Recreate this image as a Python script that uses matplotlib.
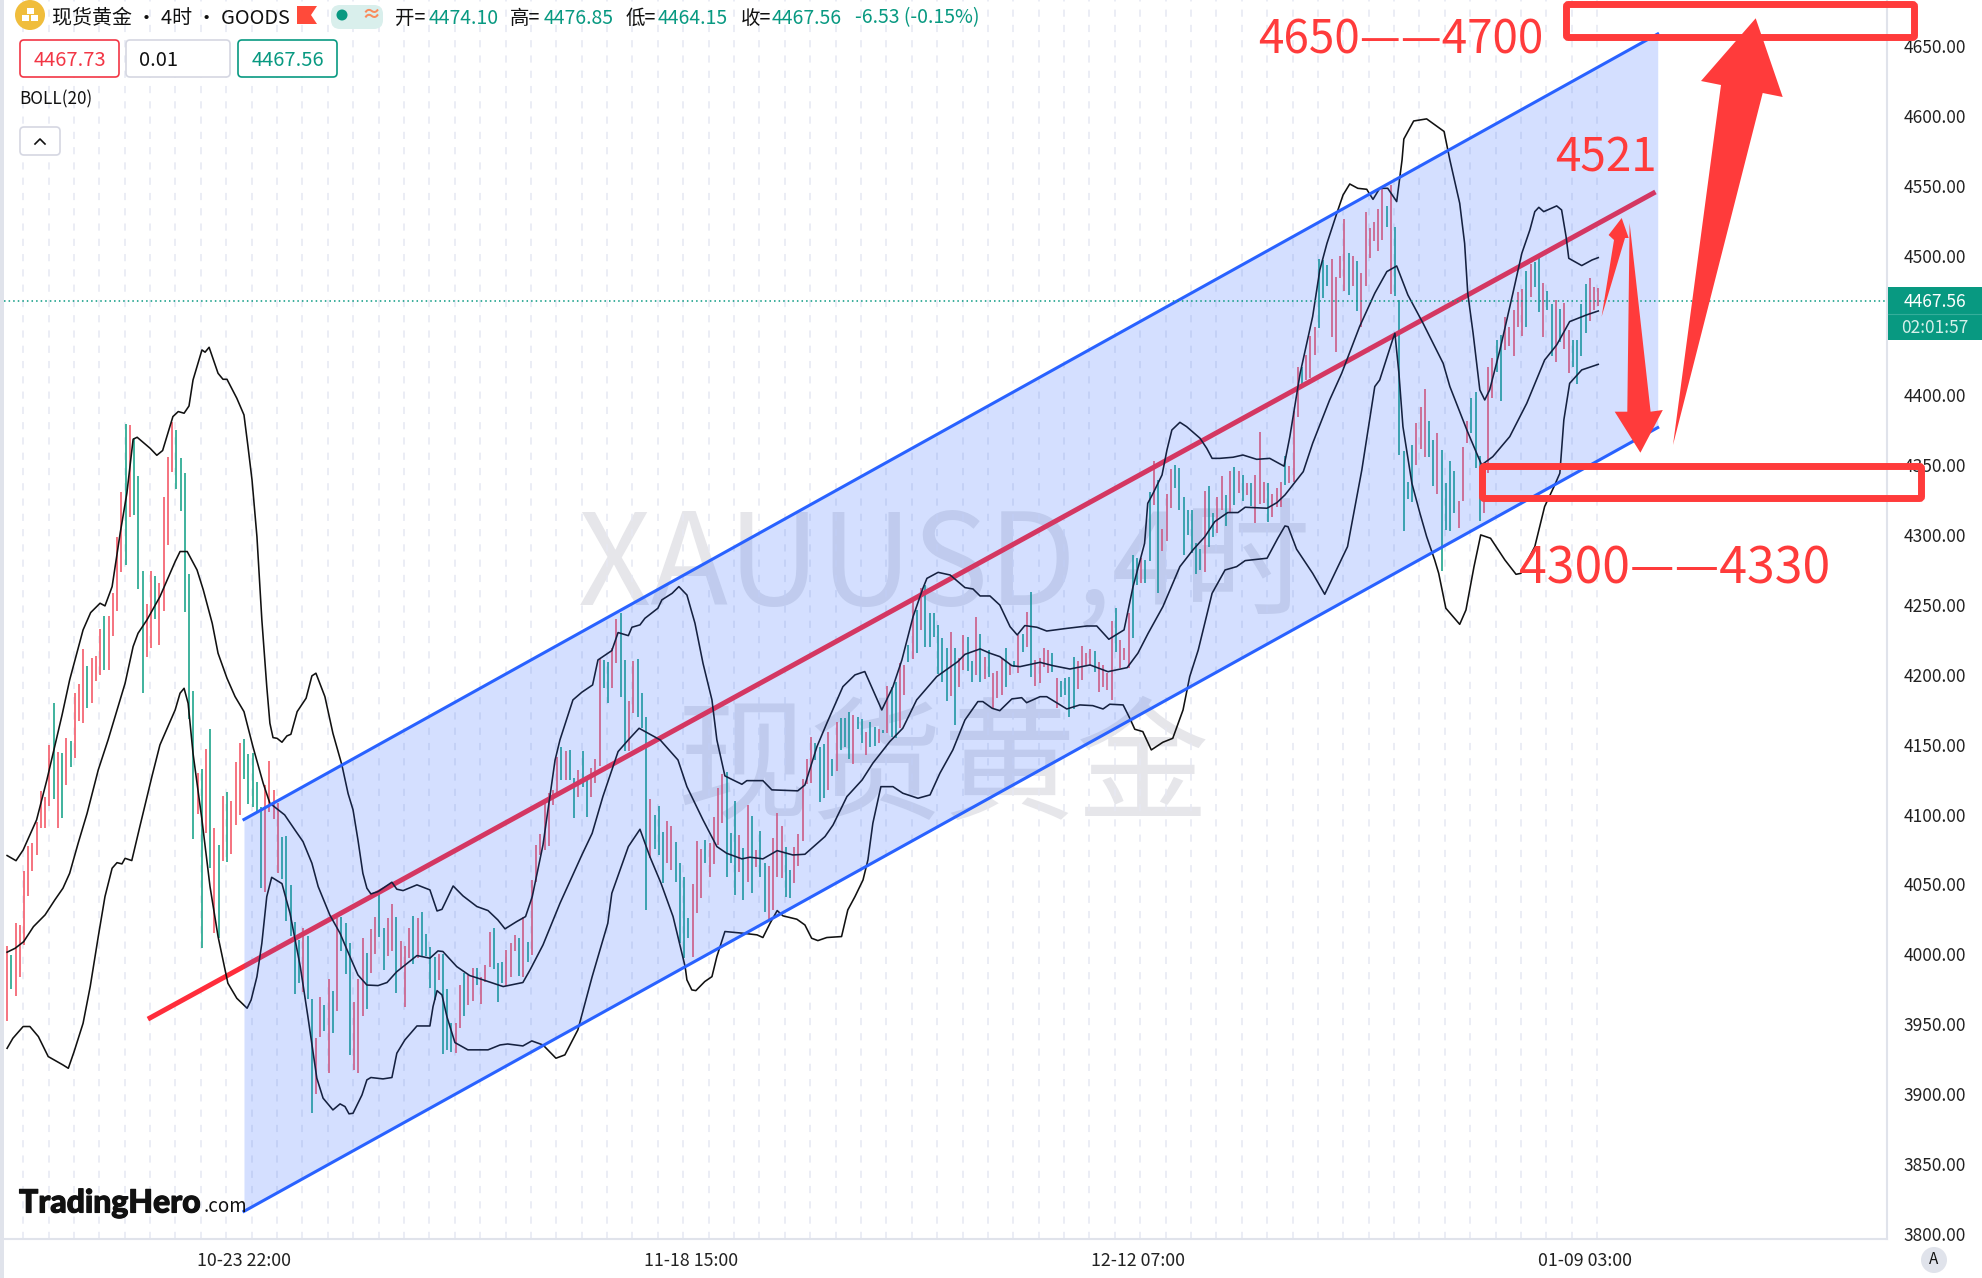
import numpy as np
import matplotlib
matplotlib.use('Agg')
import matplotlib.pyplot as plt
import matplotlib.patheffects as pe
from matplotlib.patches import Circle, FancyBboxPatch, Polygon, Rectangle

plt.rcParams['font.family'] = ['Noto Sans CJK SC', 'DejaVu Sans']

# candles, left to right
candle_high = [
    4006, 3999.5, 4022.7, 4021, 4059.7, 4077.8, 4079.5, 4095, 4116.7, 4112.4,
    4149.9, 4179.7, 4144.9, 4143.9, 4155, 4152.7, 4186.9, 4193.5, 4218.4, 4206.4,
    4212.4, 4213.6, 4232.9, 4242.2, 4241.8, 4258.4, 4298.5, 4330.8, 4379.7, 4378.7,
    4369.4, 4342.4, 4274.4, 4250.8, 4274.4, 4271, 4266, 4327.2, 4355.8, 4381.3,
    4375.4, 4355.6, 4344.3, 4272.3, 4188.5, 4130, 4132.5, 4146.8, 4161.1, 4090.2,
    4078, 4113.4, 4116.2, 4110, 4137.9, 4151, 4154.4, 4143.4, 4144.4, 4123.4,
    4105.7, 4121, 4138.4, 4117.7, 4108.1, 4083.8, 4084.7, 4049.7, 4022.9, 4010.3,
    4019.1, 4013.2, 3967.8, 3939.9, 3969.7, 3963.8, 3982.1, 3974, 4025.8, 4027,
    4022.2, 4007.9, 3966.2, 3982.1, 4011.5, 4000.8, 4018, 4026.5, 4043.7, 4019.1,
    4026.3, 4036, 4026.5, 4009.6, 4006, 4018.6, 4027.7, 4025.8, 4030, 4014.6,
    4005.5, 3998.4, 4000.3, 4000.3, 3975, 3950.6, 3950.6, 3978, 3986.9, 3985.2,
    3990, 3990, 3984, 3992.4, 4016.3, 4019.1, 3993.6, 3994.8, 4003.1, 4008.4,
    4013.9, 4012, 4027, 4009, 4053.2, 4078.3, 4086.2, 4108.1, 4115.3, 4117.7,
    4141, 4148.7, 4145.8, 4146.3, 4126, 4132, 4145.6, 4127.2, 4133.2, 4139.6,
    4211.4, 4210.7, 4209.5, 4219.1, 4239.8, 4244.1, 4210.7, 4181.1, 4210.2, 4211.2,
    4186.9, 4169.7, 4111, 4099.8, 4106.2, 4087.8, 4095.5, 4092.1, 4080.7, 4065.2,
    4055, 4025.8, 4050.1, 4081.4, 4075.4, 4081.9, 4080, 4098.6, 4118.9, 4128.9,
    4130.8, 4086.6, 4110, 4085.5, 4075.9, 4107, 4099, 4074.7, 4088.6, 4065.2,
    4063.3, 4083.5, 4101, 4092.1, 4077.1, 4060.4, 4077.1, 4086.2, 4125.3, 4139.9,
    4155.8, 4151.5, 4148.7, 4150.6, 4159.4, 4139.9, 4166.6, 4169.4, 4169, 4173.3,
    4171.3, 4169.7, 4168.2, 4159.4, 4166.6, 4163, 4161.3, 4160.6, 4192.3, 4191.6,
    4195.2, 4208.3, 4207.1, 4221.5, 4256, 4246.5, 4262, 4264.4, 4244.6, 4244.1,
    4235.8, 4226.2, 4219, 4230.5, 4219, 4211.9, 4228.6, 4227.4, 4210.2, 4241.2,
    4229, 4213, 4217.8, 4201.6, 4202.8, 4212.4, 4219, 4207.8, 4210.2, 4228.6,
    4229, 4245.3, 4259.1, 4210.7, 4211.9, 4219, 4217.8, 4215.5, 4197.6, 4195.7,
    4198, 4198.8, 4212.6, 4210.2, 4221, 4216, 4218.6, 4217.1, 4209, 4207.1,
    4201.1, 4238.6, 4247.7, 4225, 4219, 4244.1, 4285.8, 4283.5, 4283.5, 4282.3,
    4330.7, 4353.4, 4339.5, 4304.2, 4329.3, 4347.4, 4350.3, 4348.4, 4327.6, 4318,
    4318, 4294.2, 4290.1, 4331.7, 4335.2, 4315.7, 4327.6, 4342.4, 4328.8, 4346,
    4349.1, 4346.2, 4343.1, 4337.6, 4337.6, 4342.9, 4374.1, 4338.3, 4337.2, 4329.5,
    4333.6, 4337.9, 4356.7, 4349.6, 4389.2, 4420.2, 4420.7, 4429, 4442.6, 4449.3,
    4497.7, 4497, 4493.4, 4497.5, 4485.1, 4499.9, 4526.1, 4501.8, 4500.1, 4496.3,
    4488, 4531.6, 4519.7, 4524, 4533.5, 4550, 4535.9, 4550.7, 4520.4, 4468.4,
    4360.3, 4338.3, 4364.6, 4380, 4391.6, 4404.4, 4381.8, 4368.2, 4372.9, 4361,
    4337.2, 4353.4, 4346.2, 4324.8, 4362.9, 4381.8, 4398.5, 4402.3, 4356.7, 4346.2,
    4420.2, 4426.6, 4439.8, 4443.3, 4456, 4449.3, 4461.2, 4474.4, 4476, 4489.4,
    4494.2, 4495.8, 4498.2, 4480.3, 4475.1, 4465.5, 4468.4, 4461.9, 4466.5, 4446.9,
    4439.8, 4439.8, 4465.5, 4479.6, 4484.4, 4477.9, 4476.85,
]
candle_low = [
    3952, 3975, 3970.5, 3984, 4007, 4041.8, 4059.7, 4071, 4090.7, 4090.7,
    4106.4, 4111, 4090.7, 4097.9, 4121, 4134.4, 4140.8, 4167.3, 4165.4, 4176.6,
    4179.7, 4195.7, 4199.8, 4203.6, 4203.6, 4227.9, 4245.8, 4274, 4278.7, 4313.3,
    4314.5, 4261.3, 4186.9, 4213.1, 4219, 4239.8, 4221.5, 4246, 4293, 4345,
    4333.4, 4317.6, 4245.3, 4168.3, 4082.8, 4100.2, 4004.3, 4087.1, 4061.6, 4015,
    4011.5, 4066.8, 4066.4, 4071.9, 4092.6, 4099.8, 4125.3, 4107.4, 4105.7, 4102.9,
    4047.5, 4044.4, 4102.2, 4096.7, 4058, 4053.7, 4024.1, 4013.2, 3971.4, 3979.3,
    3973.3, 3968, 3886.7, 3899.8, 3941.1, 3945.4, 3915.3, 3944, 3959.7, 4002.4,
    3986, 3928, 3917.2, 3915.3, 3955.9, 3960.7, 3986.9, 4000, 4012.7, 3988.8,
    3998.8, 4002, 3972.6, 3990, 3962.6, 3997.2, 3993.1, 3997.2, 3998.4, 3998.8,
    3975.7, 3967.3, 3981.7, 3928.7, 3931.6, 3930.4, 3929.6, 3947.5, 3956.1, 3963.8,
    3966.9, 3978, 3964.5, 3980.5, 3991.2, 3989.3, 3965.7, 3979.3, 3977.4, 3984,
    4002.4, 3984.5, 3984, 3994.8, 3999.6, 4052, 4071, 4074.7, 4077.6, 4107,
    4115, 4124.8, 4124.8, 4124.8, 4097.4, 4112.4, 4119.6, 4098.6, 4112.4, 4122.9,
    4134.8, 4190.4, 4180.2, 4190.4, 4208.3, 4184.5, 4145.8, 4145.8, 4172.5, 4169.7,
    4161.8, 4031.8, 4068.8, 4075.2, 4071.1, 4050.9, 4065.2, 4060.4, 4052, 4007.9,
    3997.2, 4011.5, 3997.9, 4029.4, 4040.1, 4065.2, 4055.6, 4064.7, 4078.3, 4093.8,
    4055.6, 4065.7, 4042.5, 4059.2, 4038.9, 4052, 4044.2, 4062.3, 4055.6, 4030.6,
    4024.1, 4031.8, 4055.6, 4054.4, 4040.8, 4040.1, 4051.3, 4063.3, 4081.2, 4122,
    4122.9, 4139.1, 4109.3, 4111.7, 4117.7, 4127.7, 4131.5, 4146.3, 4148.7, 4139.9,
    4136.3, 4161, 4151, 4142.7, 4148.7, 4149, 4151.5, 4158.2, 4158.2, 4155.4,
    4154.6, 4162.3, 4185.7, 4209.5, 4211.2, 4216, 4232.2, 4219.8, 4219.8, 4227,
    4200.5, 4195, 4181.6, 4185.2, 4164.2, 4191.6, 4203.5, 4203, 4194.7, 4199.9,
    4195.2, 4197, 4198.8, 4175.6, 4183.7, 4185.6, 4191.6, 4199.9, 4205.4, 4201.6,
    4216.2, 4220.2, 4198.8, 4192.3, 4194, 4205.4, 4201.1, 4202.3, 4176.6, 4184.4,
    4185.6, 4170.1, 4175.4, 4189.7, 4196.4, 4207.1, 4206.6, 4201.9, 4188, 4191.6,
    4189.2, 4182, 4216.2, 4204.7, 4210.7, 4205.2, 4226.2, 4264.4, 4266, 4266,
    4281.8, 4321.6, 4258.4, 4288.7, 4296.1, 4319.7, 4334, 4318, 4285.6, 4300.2,
    4287, 4272, 4275.1, 4273.9, 4291.3, 4299, 4301.4, 4318, 4306.8, 4315.7,
    4321.6, 4330.5, 4324.5, 4328.8, 4320.9, 4309, 4322.4, 4322.8, 4309.7, 4312.8,
    4320, 4320, 4336, 4337.2, 4338.3, 4384.9, 4407.5, 4411.1, 4412.3, 4429,
    4448.1, 4469.6, 4478.4, 4442.1, 4430.9, 4483.9, 4475.1, 4472, 4478.4, 4460.8,
    4448.8, 4478.4, 4498.2, 4510.9, 4503.7, 4511.3, 4520.4, 4472.7, 4471.5, 4357.4,
    4303.3, 4326, 4323.6, 4350.3, 4361.7, 4356.2, 4355.8, 4335.3, 4329.5, 4274.6,
    4303.8, 4303.3, 4316.2, 4305, 4324.8, 4365.8, 4372.9, 4347.9, 4310.2, 4315.7,
    4344.3, 4398, 4417.1, 4396.3, 4432.6, 4435.5, 4428.3, 4448.8, 4442.9, 4449.3,
    4470.8, 4477.9, 4460, 4442.1, 4461.2, 4428.3, 4423.8, 4438.6, 4433.3, 4416.4,
    4420.2, 4408.2, 4428.3, 4445, 4453.4, 4461.2, 4464.15,
]
candle_side = list(
    'rgrrrrrrrr' 'rgrgrgrrrg' 'rrrgrrrrgr' 'gggrrgrrrr' 'gggggrgrgr'
    'grgrrrgggg' 'grrrrggggg' 'rggrrgrgrg' 'ggrrrgrrgg' 'rrgrrrgrgg'
    'ggrgggrrgr' 'rgrrrgggrr' 'rgrgrrrrrr' 'rgrggrggrr' 'rggrrggrrg'
    'ggrgggrrgg' 'ggrrrgrrrr' 'gggrgrgrgg' 'rrrrggrrrr' 'rgggrgrggg'
    'rggrggrgrg' 'grrgrgrggg' 'gggrgrrggr' 'grgrrrgrgr' 'grgrrrrgrg'
    'gggrrrrgrr' 'rrgrrrggrg' 'grgrrrgggg' 'gggrggrrgr' 'grgrgrrrgr'
    'rrgrrrgrrr' 'gggrrrrgrg' 'rrrrrrgrgg' 'gggrrrggrg' 'gggrrrgggr'
    'rrggrrrrrg' 'rggrggrgrr' 'ggggrrrggg' 'ggrrgrg'
)

# bollinger bands: bar slot and price
upper_x = [0, 2, 3.6, 6.6, 8.9, 10.3, 12.3, 14, 15.2, 17, 18.7, 20.8, 21.9, 23.5, 25.3, 26.8,
           28.2, 29.1, 32, 33.5, 34.8, 37.1, 38.3, 39.6, 40.7, 41.6, 43.6, 44.3, 45.2, 47.2,
           48.3, 49.2, 51.4, 53, 53.9, 54.8, 55.9, 57, 58.1, 58.8, 59.5, 60.4, 61.5, 62.6,
           63.5, 64.9, 66.9, 68.2, 69.1, 71.1, 72.9, 74.9, 76.3, 77.4, 78.5, 79.6, 80.5, 81.4,
           83, 86.1, 87.2, 88.6, 91.7, 94.6, 96.2, 97.3, 99.8, 102, 105.1, 107.6, 109.8, 111.4,
           114, 116, 117.5, 119.9, 122.6, 123.7, 126.6, 128.6, 131, 132.2, 135.3, 136.7, 139,
           139.8, 141.6, 142.7, 145.6, 146.5, 148.8, 150.3, 152.1, 153.9, 155.7, 157.7, 158.8,
           160.6, 162.4, 164.4, 165.5, 169.1, 171.1, 176.9, 178.5, 181.2, 183.4, 187, 189.7,
           191.9, 195.7, 198.2, 200.2, 202.7, 204.9, 205.8, 208.3, 211, 214.3, 216.1, 217.7,
           219.9, 222.1, 224.4, 226, 227.7, 230.4, 232.6, 237.1, 241.6, 243.8, 246.5, 249.9,
           251.9, 254.5, 255.2, 256.4, 258.4, 259.5, 260.6, 262.4, 263.9, 266.9, 268.4, 269.6,
           271.3, 274.3, 276.5, 279.6, 282.5, 285.7, 287, 289.3, 292.1, 293.7, 295.3, 297.5,
           298.9, 300.4, 302.2, 304.2, 305.6, 307.1, 308.9, 310.9, 312.1, 312.5, 314.7, 317.6,
           321.5, 322.8, 325, 326.1, 326.8, 328, 329.5, 330.6, 331.7, 334, 336.9, 338.9, 340.7,
           341.8, 342.7, 343.8, 346.7, 347.8, 348.8, 349.4, 352.3, 354.6, 356]
upper_y = [4070.7, 4067, 4074.7, 4096.2, 4124.8, 4143.9, 4171.3, 4196.4, 4210.7, 4232.2, 4244.6,
           4251.3, 4249.4, 4263.2, 4301.4, 4330, 4368.7, 4370.1, 4362.2, 4357.2, 4360.6, 4384.9,
           4388.5, 4387.3, 4392.5, 4411.1, 4432.6, 4431, 4434.5, 4415.9, 4411.6, 4411.6, 4398,
           4386.1, 4363.4, 4339.6, 4299, 4239.4, 4191.6, 4165.4, 4155.1, 4154.6, 4151.8, 4156.3,
           4157.5, 4173.7, 4183.3, 4199.3, 4201.2, 4184.5, 4158.2, 4135.6, 4115, 4103.4, 4081.9,
           4058, 4047.3, 4043.2, 4044.9, 4051.6, 4046.6, 4045.6, 4049.7, 4046.1, 4031, 4032.2,
           4048.9, 4041.8, 4034.2, 4031.3, 4024.6, 4018.2, 4023.4, 4027, 4041.3, 4078.3, 4139,
           4153.5, 4182.1, 4187.6, 4192.8, 4210.7, 4217.4, 4230.3, 4228.1, 4234.1, 4235.8, 4240.5,
           4247.7, 4253.7, 4258.4, 4263.2, 4257.2, 4237, 4208.3, 4182.1, 4153.5, 4127.7, 4124.8,
           4121.7, 4124.3, 4124.3, 4117.7, 4117, 4121.2, 4148.7, 4165.4, 4191.6, 4200, 4202.4,
           4174.9, 4191.6, 4210.7, 4241.7, 4262, 4269.1, 4273.4, 4271.5, 4262.5, 4261.5, 4256.5,
           4256.5, 4250, 4234.5, 4228.6, 4235.3, 4234.1, 4231.4, 4233.3, 4235, 4235, 4225.5, 4232.2,
           4263, 4294.2, 4322.8, 4330, 4343.1, 4361, 4375.3, 4380.8, 4377.7, 4369.4, 4362.2, 4355,
           4355, 4355.8, 4357.4, 4354.3, 4355, 4349.4, 4370.6, 4415.9, 4456.5, 4489.9, 4508.9,
           4530.4, 4543.5, 4551.4, 4548.3, 4547.6, 4540.4, 4548.3, 4548.3, 4538.8, 4568.6, 4583.6,
           4596.5, 4598, 4589, 4568.6, 4537.6, 4508.9, 4473.2, 4444.5, 4404, 4396.8, 4404, 4432.6,
           4473.2, 4501.8, 4518.5, 4531.6, 4534.7, 4531.6, 4535.7, 4532.8, 4513.7, 4498.2, 4493,
           4497, 4498.7]
mid_x = [0, 1.8, 3.7, 5.9, 8.5, 10.7, 12.5, 14, 15.9, 17.9, 20.4, 22.6, 26.4, 28.2, 29.3, 31.3, 34.2,
         37.6, 38.7, 40.3, 42.5, 43.9, 45.9, 47.2, 49.2, 51, 53, 55, 57.3, 58.8, 62.1, 64.4, 66.2,
         68.2, 69.6, 72.2, 74.5, 76.7, 78.5, 80.5, 83, 85, 87.2, 90.2, 91.7, 94.6, 96.4, 97.5, 100.6,
         103.5, 106.5, 111, 115.4, 117, 119.9, 123.7, 128.6, 130.9, 133.3, 136.7, 139, 141.4, 146.1,
         150.1, 152.1, 155.7, 158.8, 161, 164.4, 166.2, 169.1, 172.3, 175.8, 178.5, 183, 184.8, 187.9,
         191.3, 193.7, 197.5, 200.4, 203.5, 208, 212.7, 214.3, 217.7, 219.9, 222.1, 224.8, 226.6,
         231.1, 234, 237.8, 242.3, 246.3, 250.6, 253, 255.3, 258.6, 262.4, 265.3, 268, 270.2, 273.1,
         275.4, 277, 281.9, 284.1, 285.9, 290, 292.1, 295.9, 298.6, 302.6, 306, 308.7, 310.9, 313.4,
         316.8, 321.3, 322.8, 326.6, 328.8, 329.9, 332.4, 336.2, 340, 344, 346.7, 349.6, 353.4, 356]
mid_y = [4001.5, 4004.3, 4009, 4019.8, 4028.2, 4039, 4047.3, 4058, 4079.5, 4100.9, 4132, 4153.5, 4194,
         4220.3, 4229.8, 4239.4, 4256, 4281.1, 4288.3, 4288.3, 4275.1, 4260.8, 4236.9, 4215.5, 4197.6,
         4184.5, 4173.7, 4148.7, 4122.4, 4108.1, 4099.8, 4089, 4080.7, 4065.2, 4048.5, 4028.2, 4015,
         3998.4, 3985.2, 3978, 3977.6, 3979.8, 3987.6, 3995.3, 3999.1, 3997.2, 4002.4, 4002, 3991.2,
         3984.8, 3981.7, 3976.9, 3979.8, 3988.8, 4006.7, 4036.5, 4071.1, 4086.6, 4112.9, 4145.1,
         4153.5, 4161.8, 4153.5, 4139.1, 4120, 4096.2, 4077.1, 4072.3, 4068.3, 4069.5, 4068.3, 4074.2,
         4071.1, 4071.6, 4084.3, 4092.6, 4112.9, 4124.8, 4136.8, 4152.3, 4161.8, 4182.1, 4198.8,
         4209.5, 4214.7, 4218.6, 4215.5, 4213.1, 4206.6, 4205.9, 4209, 4206.6, 4204.2, 4207.1, 4202.3,
         4205.2, 4215.5, 4229.8, 4248.9, 4277.5, 4289.4, 4299, 4309.7, 4316.2, 4316.2, 4320, 4319.3,
         4323.3, 4328.8, 4345.5, 4365.8, 4396.8, 4415.9, 4449.3, 4473.2, 4488.7, 4492.7, 4472, 4451.7,
         4423, 4406.4, 4375.3, 4358.6, 4350.3, 4356.2, 4370.6, 4394.4, 4425.4, 4436.2, 4452.9, 4457.7,
         4460.5]
lower_x = [0, 1.3, 3.6, 5.1, 7, 9.2, 12.5, 13.7, 15, 17, 18.6, 20.4, 21.9, 23.5, 24.6, 25.7, 26.4, 27.9,
           29.7, 32.4, 34.2, 37.6, 38.7, 39.6, 40.5, 41.6, 43.6, 45.4, 47.2, 48.3, 49.4, 51.4, 53.7,
           54.6, 55.9, 57, 58.1, 59.2, 61.5, 63.3, 65.6, 67.3, 69.3, 70.7, 72.9, 74.5, 75.6, 76.5, 77.4,
           79.4, 80.5, 81.4, 84.1, 86.1, 87.2, 89, 91.7, 94.6, 95.3, 96.2, 97.3, 98.4, 100.2, 103.1,
           107.6, 110.3, 112, 115.4, 117.4, 119.9, 122.8, 124.8, 127.7, 130.9, 134.4, 135.3, 139, 141.6,
           143.8, 146.3, 149, 151.7, 152.1, 153.2, 154.1, 156.1, 157.7, 158.8, 160.6, 164.6, 167.8, 169.1,
           170.7, 172.3, 173.6, 176.7, 178.5, 180, 181.4, 183.4, 186.7, 188.1, 189.7, 191.5, 192.6, 193.7,
           195.5, 198.2, 200.4, 203.8, 206.5, 208.7, 211.6, 214.3, 217.2, 218.3, 220.4, 222.1, 224.8, 227,
           228.1, 231.1, 232.6, 237.1, 240, 242.9, 245.2, 246.7, 249.7, 251.2, 252.3, 254.1, 256, 258.6,
           260.8, 263.1, 264.6, 266.5, 269.6, 272.5, 275.1, 277, 281.9, 284.3, 285.9, 286.6, 288.5, 292.1,
           294.8, 299.9, 303.1, 306, 307.1, 310, 310.5, 311.4, 312.3, 314.3, 316.1, 317.6, 319.4, 320.3,
           321.9, 325, 326.4, 328.2, 329.7, 331.9, 335.1, 337.6, 338.7, 341.8, 344, 346.1, 347.4, 348.3,
           349.6, 352.3, 356]
lower_y = [3932.7, 3939.9, 3948.3, 3948.3, 3941.1, 3926.8, 3920.8, 3918.4, 3930.4, 3950.6, 3976.9, 4012.7,
           4041.3, 4061.6, 4065.6, 4064.7, 4068.7, 4067.1, 4091.4, 4127.2, 4149.9, 4174.9, 4186.9, 4190.4,
           4179.7, 4143.9, 4096.2, 4048.5, 4012.7, 3996, 3979.3, 3968.5, 3961.4, 3967.3, 3984, 4007.9,
           4041.3, 4055.1, 4050.6, 4029.4, 3991.2, 3955.4, 3911.3, 3897, 3888.6, 3892.9, 3891, 3885.8,
           3886.2, 3899.3, 3910.1, 3911.8, 3910.8, 3911.8, 3929.2, 3938.7, 3948.7, 3948.7, 3962.6, 3974,
           3970.9, 3955.4, 3936.8, 3931.6, 3931.6, 3935.1, 3935.8, 3934.4, 3938, 3935.1, 3925.6, 3928,
           3945.9, 3984, 4022.2, 4043.7, 4077.1, 4089.5, 4070, 4050.9, 4027, 3991.2, 3981.7, 3974.5, 3974,
           3980.5, 3984, 3998.4, 4016.3, 4015.1, 4013.9, 4012, 4022.2, 4031.3, 4027.5, 4025.1, 4021, 4011.5,
           4009.8, 4012, 4012.7, 4031.8, 4041.3, 4053.2, 4067.6, 4093.8, 4120, 4120, 4115.3, 4111.7, 4114.1,
           4129.6, 4146.3, 4167.7, 4180.9, 4180.9, 4176.1, 4174.4, 4182.8, 4183.7, 4180.1, 4184.4, 4184.4,
           4175.6, 4178.5, 4178, 4175.6, 4179, 4178.5, 4168.9, 4161.1, 4159.4, 4146.3, 4151.8, 4154.6, 4174.9,
           4198.8, 4217.8, 4258.4, 4275.1, 4277.5, 4281.8, 4283.5, 4297.8, 4306.6, 4306.1, 4290, 4272.7,
           4257.7, 4291.8, 4346.7, 4406.4, 4411.1, 4440, 4444.5, 4415.9, 4377.7, 4337.2, 4315.7, 4299, 4282.3,
           4272.7, 4247.7, 4236.2, 4246.5, 4277.5, 4300.2, 4297.8, 4282.3, 4272, 4272.7, 4291.8, 4320.5,
           4334.8, 4344.3, 4382.5, 4408.7, 4418.3, 4422.3]

# channel drawn on the chart
channel_x = [53, 369.3]
channel_top = [4096.5, 4658.8]
channel_bottom = [3816, 4377]
midline_x = [31.5, 368.8]
midline_y = [3953.6, 4545.7]

last_price = 4467.56
price_ticks = list(range(3800, 4651, 50))
time_slots = [53, 153, 253, 353]
time_labels = ['10-23 22:00', '11-18 15:00', '12-12 07:00', '01-09 03:00']

W, H = 1983, 1278
BAR_RED = '#f45b69'
BAR_GREEN = '#1fa58c'
MARK_RED = '#ff3b3b'

fig = plt.figure(figsize=(W / 100, H / 100), dpi=100)
fig.patch.set_facecolor('white')
ax = fig.add_axes([4 / W, 1 - 1239 / H, (1887 - 4) / W, 1239 / H])
ax.set_xlim(-0.69, 420.6)
ax.set_ylim(3796.2, 4683.1)
for name in ['top', 'left']:
    ax.spines[name].set_visible(False)
for name in ['right', 'bottom']:
    ax.spines[name].set_color('#e0e3eb')
    ax.spines[name].set_linewidth(1.5)

ax.set_xticks(time_slots, time_labels, fontsize=12.8, color='#222222')
# the 4450 label sits under the price tag in the reference
ax.set_yticks(price_ticks, ['' if p == 4450 else f'{p:.2f}' for p in price_ticks],
              fontsize=12.5, color='#222222')
ax.yaxis.tick_right()
ax.tick_params(length=0)
ax.tick_params(axis='x', pad=9)
ax.tick_params(axis='y', pad=12)
ax.set_xticks(np.arange(3.6, 357, 5.68), minor=True)
ax.tick_params(which='minor', length=0)
ax.set_axisbelow(True)
ax.grid(axis='x', which='minor', color='#e6e8f2', lw=1.1, ls=(0, (4.7, 5.3)))

ax.text(209.8, 4276, 'XAUUSD,4时', fontsize=92, color='#e6e6ea', ha='center', va='center', zorder=0.4)
ax.text(209.3, 4131, '现货黄金', fontsize=96, color='#e6e6ea', ha='center', va='center', zorder=0.4)

bar_x = np.linspace(0, 356, len(candle_high))
colors = [BAR_RED if s == 'r' else BAR_GREEN for s in candle_side]
ax.vlines(bar_x, candle_low, candle_high, colors=colors, lw=1.2, zorder=2)

ax.plot(upper_x, upper_y, color='#111111', lw=1.15, zorder=2.6)
ax.plot(mid_x, mid_y, color='#111111', lw=1.15, zorder=2.6)
ax.plot(lower_x, lower_y, color='#111111', lw=1.15, zorder=2.6)
ax.plot(midline_x, midline_y, color='#ff2d3b', lw=3.6, zorder=2.5, solid_capstyle='butt')

ax.fill_between(channel_x, channel_bottom, channel_top, color='#2962ff', alpha=0.2, lw=0, zorder=3)
ax.plot(channel_x, channel_top, color='#2962ff', lw=2.2, zorder=4)
ax.plot(channel_x, channel_bottom, color='#2962ff', lw=2.2, zorder=4)
ax.axhline(last_price, color='#089981', lw=1.1, ls=(0, (1, 2)), zorder=5)

# overlay in pixels for the toolbar, the price tag and the hand drawn marks
ov = fig.add_axes([0, 0, 1, 1], zorder=10)
ov.set_xlim(0, W)
ov.set_ylim(H, 0)
ov.axis('off')

ov.add_patch(Rectangle((0, 0), 3.5, H, color='#e0e3eb', lw=0))
ov.add_patch(Circle((30, 15), 15, color='#f0bd3c', lw=0))
for cx, cy in [(27, 8), (22, 15), (31, 15)]:
    ov.add_patch(Rectangle((cx, cy), 6.5, 5.5, color='white', lw=0))
ov.text(52, 18, '现货黄金 • 4时 • GOODS', fontsize=14.4, color='#111111', va='center')
ov.add_patch(Polygon([(297, 6), (317, 6), (311, 15), (317, 24), (297, 24)], color='#ff4a3a', lw=0))
ov.add_patch(FancyBboxPatch((331, 5), 52, 24, boxstyle='round,pad=0,rounding_size=9', color='#d9efec', lw=0))
ov.add_patch(Circle((342, 15), 5.5, color='#089981', lw=0))
ov.text(371, 15, '≈', fontsize=14, color='#f98b5c', ha='center', va='center', weight='bold')

for lx, vx, label, value in [(395, 429, '开=', '4474.10'), (510, 544, '高=', '4476.85'),
                             (626, 658, '低=', '4464.15'), (741, 772, '收=', '4467.56')]:
    ov.text(lx, 18, label, fontsize=14, color='#111111', va='center')
    ov.text(vx, 18, value, fontsize=14, color='#089981', va='center')
ov.text(855, 18, '-6.53 (-0.15%)', fontsize=14, color='#089981', va='center')

for bx, bw, edge, txt, col in [(20, 99, '#f23645', '4467.73', '#f23645'),
                               (126, 104, '#d5d7e2', '0.01', '#111111'),
                               (238, 99, '#089981', '4467.56', '#089981')]:
    ov.add_patch(FancyBboxPatch((bx, 40), bw, 37, boxstyle='round,pad=0,rounding_size=4',
                                fc='white', ec=edge, lw=1.2))
    if txt == '0.01':
        ov.text(139, 60, txt, fontsize=14.5, color=col, va='center')
    else:
        ov.text(bx + bw / 2, 60, txt, fontsize=14.5, color=col, ha='center', va='center')
ov.text(19, 99, 'BOLL(20)', fontsize=12.3, color='#111111', va='center')
ov.add_patch(FancyBboxPatch((20, 127), 40, 28, boxstyle='round,pad=0,rounding_size=4',
                            fc='white', ec='#d5d7e2', lw=1.2))
ov.plot([35, 40, 45], [144, 139, 144], color='#111111', lw=1.2)

ov.add_patch(Rectangle((1888, 287), 95, 53, color='#089981', lw=0))
ov.plot([1888, 1983], [314, 314], color='#35ad9a', lw=0.8)
ov.text(1935, 302, '4467.56', fontsize=12.5, color='white', ha='center', va='center', weight='medium')
ov.text(1935, 328, '02:01:57', fontsize=12.5, color='#d5f0ea', ha='center', va='center')
ov.add_patch(Circle((1934, 1260), 13, color='#e0e3eb', lw=0))
ov.text(1934, 1260, 'A', fontsize=11, color='#111111', ha='center', va='center')

logo = ov.text(19, 1203, 'TradingHero', fontsize=23, family='Lato', weight='black', color='#111111', va='center')
logo.set_path_effects([pe.withStroke(linewidth=0.8, foreground='#111111')])
ov.text(204, 1207, '.com', fontsize=13.5, color='#111111', va='center')

ov.add_patch(FancyBboxPatch((1566.5, 4.5), 348, 33, boxstyle='round,pad=0,rounding_size=2',
                            fc='none', ec=MARK_RED, lw=5))
ov.add_patch(FancyBboxPatch((1482.5, 466.5), 439, 32, boxstyle='round,pad=0,rounding_size=2',
                            fc='none', ec=MARK_RED, lw=5))
ov.add_patch(Polygon([(1673, 445), (1721, 85), (1701, 81), (1755.7, 18.3), (1782.7, 97), (1762.7, 93)],
                     color=MARK_RED, lw=0))
ov.add_patch(Polygon([(1601.6, 316.7), (1614, 240), (1608.6, 235), (1621.7, 218), (1628.7, 238), (1625, 238)],
                     color=MARK_RED, lw=0))
ov.add_patch(Polygon([(1629.6, 223), (1650.6, 411.7), (1662.8, 410), (1640.4, 452.7), (1614.7, 411.7), (1627.3, 411.7)],
                     color=MARK_RED, lw=0))
ov.text(1258, 40, '4650——4700', fontsize=33, color=MARK_RED, va='center')
ov.text(1555, 158, '4521', fontsize=33, color=MARK_RED, va='center')
ov.text(1519, 570, '4300——4330', fontsize=36, color=MARK_RED, va='center')

fig.savefig('out.png', dpi=100)
